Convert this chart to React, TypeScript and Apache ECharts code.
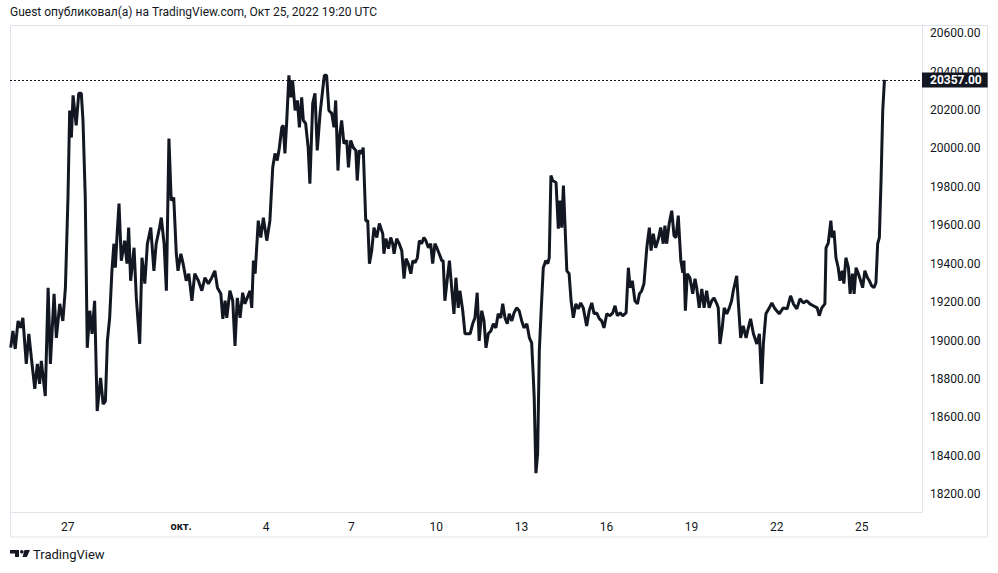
import React, { useEffect, useRef } from "react";
import * as echarts from "echarts";

// Day index: September d = d, October d = 30 + d
const DAYS = [
  24.99, 25.07, 25.15, 25.25, 25.34, 25.42, 25.54, 25.63, 25.72, 25.84, 25.93, 26.01, 26.07, 26.21, 26.31, 26.39,
  26.52, 26.6, 26.72, 26.83, 26.92, 27.01, 27.07, 27.13, 27.19, 27.3, 27.39, 27.48, 27.54, 27.62, 27.69, 27.78,
  27.86, 27.95, 28.04, 28.16, 28.25, 28.33, 28.4, 28.48, 28.56, 28.63, 28.68, 28.75, 28.81, 28.89, 29.01, 29.09,
  29.15, 29.22, 29.34, 29.42, 29.54, 29.62, 29.72, 29.81, 29.93, 30.04, 30.12, 30.24, 30.3, 30.4, 30.48, 30.57,
  30.65, 30.74, 30.83, 30.89, 30.99, 31.07, 31.18, 31.27, 31.38, 31.48, 31.61, 31.73, 31.84, 31.96, 32.08, 32.19,
  32.28, 32.4, 32.47, 32.55, 32.61, 32.72, 32.82, 32.9, 32.98, 33.08, 33.17, 33.25, 33.33, 33.43, 33.49, 33.55,
  33.61, 33.72, 33.81, 33.9, 34.02, 34.13, 34.23, 34.31, 34.39, 34.46, 34.55, 34.6, 34.66, 34.72, 34.8, 34.87,
  34.93, 35.02, 35.1, 35.17, 35.25, 35.31, 35.39, 35.48, 35.54, 35.64, 35.72, 35.8, 35.9, 35.99, 36.05, 36.13,
  36.21, 36.31, 36.39, 36.45, 36.53, 36.6, 36.66, 36.74, 36.84, 36.9, 36.98, 37.07, 37.16, 37.21, 37.28, 37.37,
  37.42, 37.51, 37.58, 37.64, 37.72, 37.8, 37.9, 37.99, 38.11, 38.15, 38.22, 38.31, 38.39, 38.46, 38.51, 38.6,
  38.69, 38.78, 38.86, 38.93, 39.01, 39.1, 39.17, 39.25, 39.33, 39.4, 39.48, 39.56, 39.63, 39.72, 39.8, 39.87,
  39.95, 40.03, 40.1, 40.19, 40.24, 40.3, 40.39, 40.46, 40.54, 40.62, 40.69, 40.77, 40.83, 40.93, 41.01, 41.09,
  41.19, 41.28, 41.36, 41.44, 41.51, 41.6, 41.68, 41.75, 41.83, 41.92, 42.01, 42.1, 42.18, 42.27, 42.34, 42.42,
  42.5, 42.57, 42.66, 42.74, 42.83, 42.92, 43.01, 43.09, 43.19, 43.28, 43.36, 43.42, 43.45, 43.51, 43.57, 43.63,
  43.69, 43.77, 43.86, 43.93, 43.98, 44.04, 44.1, 44.22, 44.3, 44.36, 44.42, 44.48, 44.54, 44.6, 44.68, 44.75,
  44.83, 44.92, 45.01, 45.09, 45.18, 45.3, 45.39, 45.48, 45.56, 45.65, 45.75, 45.83, 45.91, 46.01, 46.12, 46.22,
  46.3, 46.38, 46.48, 46.57, 46.69, 46.77, 46.83, 46.91, 47.0, 47.09, 47.16, 47.24, 47.32, 47.42, 47.51, 47.57,
  47.65, 47.73, 47.83, 47.91, 48.0, 48.06, 48.12, 48.21, 48.3, 48.38, 48.45, 48.53, 48.62, 48.69, 48.73, 48.78,
  48.85, 48.94, 49.04, 49.12, 49.18, 49.27, 49.36, 49.44, 49.53, 49.62, 49.71, 49.79, 49.89, 49.94, 50.0, 50.08,
  50.15, 50.24, 50.33, 50.41, 50.47, 50.59, 50.65, 50.73, 50.82, 50.92, 51.0, 51.08, 51.18, 51.3, 51.39, 51.47,
  51.53, 51.62, 51.74, 51.83, 51.94, 52.09, 52.23, 52.37, 52.49, 52.59, 52.71, 52.82, 52.94, 53.06, 53.17, 53.29,
  53.43, 53.5, 53.59, 53.7, 53.74, 53.82, 53.91, 53.96, 54.02, 54.09, 54.17, 54.23, 54.31, 54.37, 54.44, 54.53,
  54.59, 54.67, 54.73, 54.8, 54.88, 54.96, 55.03, 55.11, 55.2, 55.27, 55.35, 55.43, 55.5, 55.56, 55.62, 55.68,
  55.74, 55.8,
];

const PRICES = [
  18963, 19050, 18956, 19102, 19066, 19118, 18878, 19035, 18909, 18748, 18878, 18774, 18894, 18711, 19275, 18878,
  19243, 19014, 19191, 19102, 19275, 19744, 20198, 20057, 20277, 20120, 20287, 20287, 20146, 19744, 18962, 19155,
  19035, 19207, 18633, 18805, 18669, 18685, 18998, 19118, 19363, 19504, 19379, 19572, 19713, 19416, 19520, 19400,
  19588, 19311, 19483, 19222, 18982, 19431, 19296, 19504, 19588, 19363, 19504, 19588, 19640, 19504, 19259, 20052,
  19729, 19744, 19452, 19363, 19452, 19400, 19311, 19348, 19207, 19348, 19311, 19259, 19327, 19296, 19327, 19363,
  19275, 19243, 19113, 19207, 19118, 19259, 19207, 18972, 19222, 19118, 19249, 19191, 19222, 19259, 19170, 19416,
  19348, 19624, 19536, 19640, 19520, 19624, 19901, 19974, 19937, 20000, 20110, 20120, 19974, 20130, 20381, 20266,
  20355, 20198, 20250, 20110, 20266, 20146, 20130, 20005, 19817, 20235, 20287, 19990, 20183, 20303, 20381, 20381,
  20198, 20183, 20110, 20250, 19885, 20078, 20146, 20026, 20042, 19901, 20042, 20005, 19990, 19833, 19990, 19974,
  20005, 19624, 19624, 19400, 19468, 19588, 19536, 19609, 19556, 19452, 19530, 19478, 19536, 19504, 19452, 19530,
  19504, 19468, 19322, 19426, 19400, 19348, 19416, 19405, 19431, 19520, 19504, 19536, 19520, 19483, 19504, 19400,
  19504, 19478, 19452, 19416, 19416, 19207, 19327, 19416, 19275, 19139, 19327, 19170, 19259, 19155, 19035, 19035,
  19035, 19087, 19118, 19249, 18998, 19155, 19102, 18962, 19035, 19050, 19087, 19066, 19139, 19118, 19191, 19118,
  19087, 19139, 19102, 19144, 19170, 19155, 19102, 19066, 19087, 19014, 18988, 18805, 18701, 18309, 18409, 18946,
  19139, 19379, 19416, 19400, 19431, 19859, 19833, 19823, 19583, 19729, 19588, 19807, 19588, 19363, 19348, 19207,
  19118, 19191, 19165, 19196, 19170, 19076, 19155, 19196, 19139, 19144, 19113, 19102, 19066, 19139, 19129, 19144,
  19181, 19129, 19144, 19129, 19144, 19379, 19275, 19311, 19207, 19191, 19243, 19259, 19296, 19483, 19588, 19468,
  19556, 19483, 19530, 19588, 19504, 19598, 19504, 19609, 19676, 19546, 19536, 19650, 19416, 19353, 19416, 19155,
  19348, 19327, 19243, 19322, 19275, 19170, 19269, 19170, 19259, 19170, 19207, 19222, 19191, 19170, 18982, 19066,
  19170, 19139, 19170, 19207, 19259, 19337, 19191, 19014, 19076, 19014, 19066, 19113, 19035, 18982, 19035, 18774,
  18982, 19139, 19170, 19196, 19165, 19139, 19170, 19165, 19233, 19191, 19165, 19217, 19196, 19207, 19191, 19181,
  19170, 19129, 19170, 19191, 19483, 19509, 19624, 19536, 19572, 19431, 19379, 19311, 19363, 19296, 19431, 19379,
  19243, 19348, 19243, 19379, 19348, 19311, 19275, 19363, 19327, 19311, 19285, 19275, 19301, 19504, 19536, 19833,
  20198, 20357,
];

const LAST_PRICE = 20357;
const X_TICKS = [27, 31, 34, 37, 40, 43, 46, 49, 52, 55];
const Y_TICKS = [18200, 18400, 18600, 18800, 19000, 19200, 19400, 19600, 19800, 20000, 20200, 20400, 20600];
const TITLE = "Guest опубликовал(а) на TradingView.com, Окт 25, 2022 19:20 UTC";
const FOOTER = "TradingView";

const FONT = "Roboto, 'Noto Sans', sans-serif";
const INK = "#131722";
const BORDER = "#e0e3eb";

export default function App() {
  const ref = useRef<HTMLDivElement>(null);

  useEffect(() => {
    if (!ref.current) return;
    const chart = echarts.init(ref.current, null, { renderer: "svg" });
    const data = DAYS.map((d, i) => [d, PRICES[i]]);

    chart.setOption({
      animation: false,
      backgroundColor: "#ffffff",
      textStyle: { fontFamily: FONT },
      grid: { left: 10, right: 76, top: 25, bottom: 61, containLabel: false },
      xAxis: {
        type: "value",
        min: 24.966,
        max: 57.124,
        axisLine: { show: true, lineStyle: { color: BORDER, width: 1 } },
        axisTick: { show: false },
        splitLine: { show: false },
        axisLabel: {
          customValues: X_TICKS,
          color: INK,
          fontSize: 12,
          fontFamily: FONT,
          margin: 9,
          formatter: (v: number) => {
            if (v <= 30) return String(v);
            if (v === 31) return "{m|окт.}";
            return String(v - 30);
          },
          rich: { m: { fontWeight: "bold", fontSize: 11, color: INK, fontFamily: FONT } },
        },
      },
      yAxis: {
        type: "value",
        position: "right",
        min: 18107,
        max: 20643,
        axisLine: { show: true, lineStyle: { color: BORDER, width: 1 } },
        axisTick: { show: false },
        splitLine: { show: false },
        axisLabel: {
          customValues: Y_TICKS,
          color: INK,
          fontSize: 12,
          fontFamily: FONT,
          margin: 8,
          formatter: (v: number) => v.toFixed(2),
        },
      },
      series: [
        {
          type: "line",
          data,
          showSymbol: false,
          symbol: "none",
          lineStyle: { color: INK, width: 3 },
          z: 3,
          markLine: {
            silent: true,
            symbol: ["none", "none"],
            lineStyle: { color: INK, type: [2, 2], width: 1 },
            label: {
              show: true,
              position: "end",
              distance: 0,
              formatter: () => LAST_PRICE.toFixed(2),
              color: "#ffffff",
              backgroundColor: INK,
              fontWeight: "bold",
              fontSize: 12,
              fontFamily: FONT,
              padding: [2, 6, 1, 8],
            },
            data: [{ yAxis: LAST_PRICE }],
          },
        },
      ],
      graphic: [
        {
          type: "rect",
          shape: { x: 10.5, y: 25.5, width: 977, height: 511.5 },
          style: { fill: "none", stroke: BORDER, lineWidth: 1 },
          silent: true,
          z: -1,
        },
        {
          type: "text",
          x: 10,
          y: 12,
          style: {
            text: TITLE,
            fill: INK,
            font: `12px ${FONT}`,
            textVerticalAlign: "middle",
            verticalAlign: "middle",
          },
        },
        {
          type: "polygon",
          shape: {
            points: [
              [10, 550], [19, 550], [19, 557], [15, 557], [15, 553.5], [10, 553.5],
            ],
          },
          style: { fill: INK },
        },
        {
          type: "circle",
          shape: { cx: 21.8, cy: 551.8, r: 1.8 },
          style: { fill: INK },
        },
        {
          type: "polygon",
          shape: { points: [[24.5, 550], [30, 550], [26.8, 557], [22.5, 557]] },
          style: { fill: INK },
        },
        {
          type: "text",
          x: 33,
          y: 554,
          style: {
            text: FOOTER,
            fill: INK,
            font: `13px ${FONT}`,
            verticalAlign: "middle",
          },
        },
      ],
    });

    return () => chart.dispose();
  }, []);

  return (
    <div
      ref={ref}
      style={{ position: "absolute", left: 0, top: 0, width: 998, height: 573, background: "#fff" }}
    />
  );
}
